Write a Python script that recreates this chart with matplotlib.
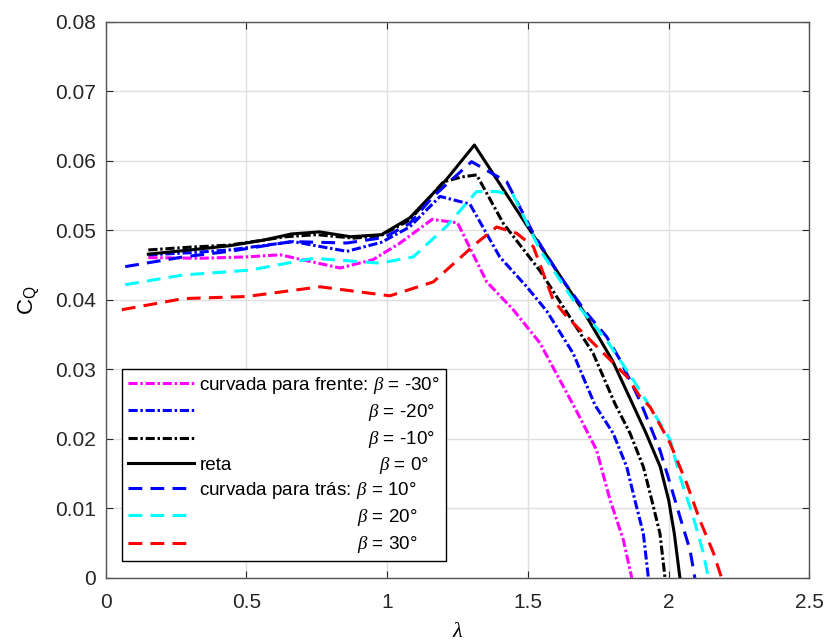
import matplotlib
matplotlib.use("Agg")
import matplotlib.pyplot as plt
from matplotlib.ticker import MultipleLocator, FormatStrFormatter

plt.rcParams['font.family'] = ['Liberation Sans', 'DejaVu Sans']
plt.rcParams['mathtext.fontset'] = 'custom'
plt.rcParams['mathtext.rm'] = 'Liberation Sans'
plt.rcParams['mathtext.it'] = 'Liberation Serif:italic'

# torque coefficient curves, one per blade curvature angle
lam_m30 = [0.152, 0.336, 0.50, 0.62, 0.833, 0.95, 1.046, 1.16, 1.25, 1.354, 1.448,
           1.543, 1.673, 1.744, 1.792, 1.839, 1.869]
cq_m30 = [0.0461, 0.0460, 0.0462, 0.0465, 0.0446, 0.0458, 0.0482, 0.0516, 0.0511,
          0.0426, 0.0386, 0.0338, 0.0240, 0.0184, 0.0112, 0.0055, 0.0]

lam_m20 = [0.152, 0.30, 0.44, 0.667, 0.857, 0.98, 1.08, 1.188, 1.294, 1.40, 1.496,
           1.567, 1.661, 1.738, 1.803, 1.851, 1.880, 1.91, 1.928]
cq_m20 = [0.0465, 0.0468, 0.0472, 0.0484, 0.0470, 0.0483, 0.0505, 0.0549, 0.0538,
          0.0462, 0.0419, 0.0384, 0.0323, 0.0249, 0.0208, 0.0160, 0.0112, 0.0064, 0.0]

lam_m10 = [0.152, 0.30, 0.44, 0.64, 0.75, 0.88, 0.975, 1.08, 1.20, 1.265, 1.318,
           1.413, 1.543, 1.656, 1.732, 1.81, 1.863, 1.91, 1.94, 1.969, 1.987]
cq_m10 = [0.0472, 0.0476, 0.0479, 0.0491, 0.0494, 0.0489, 0.0492, 0.0515, 0.0570,
          0.0577, 0.0580, 0.0510, 0.0442, 0.0371, 0.0323, 0.0250, 0.0208, 0.0160,
          0.0112, 0.0064, 0.0]

lam_0 = [0.152, 0.30, 0.44, 0.56, 0.66, 0.76, 0.87, 0.98, 1.08, 1.21, 1.31, 1.50,
         1.70, 1.80, 1.87, 1.92, 1.97, 2.00, 2.02, 2.04]
cq_0 = [0.0466, 0.0472, 0.0478, 0.0486, 0.0495, 0.0498, 0.0491, 0.0494, 0.0518,
        0.0573, 0.0623, 0.0505, 0.0382, 0.0313, 0.0252, 0.0208, 0.0160, 0.0112,
        0.0064, 0.0]

lam_p10 = [0.07, 0.276, 0.44, 0.66, 0.857, 0.99, 1.08, 1.164, 1.30, 1.425, 1.519,
           1.614, 1.709, 1.78, 1.827, 1.898, 1.969, 2.005, 2.04, 2.076, 2.093]
cq_p10 = [0.0448, 0.0462, 0.0470, 0.0484, 0.0482, 0.0490, 0.0510, 0.0549, 0.0599,
          0.0570, 0.0496, 0.0434, 0.0381, 0.0347, 0.0314, 0.0255, 0.0184, 0.0136,
          0.0088, 0.0040, 0.0]

lam_p20 = [0.07, 0.276, 0.513, 0.738, 0.975, 1.093, 1.211, 1.318, 1.389, 1.448,
           1.543, 1.661, 1.78, 1.874, 1.934, 2.005, 2.04, 2.087, 2.123, 2.141]
cq_p20 = [0.0422, 0.0436, 0.0443, 0.0460, 0.0453, 0.0462, 0.0506, 0.0556, 0.0556,
          0.0551, 0.0472, 0.0400, 0.0342, 0.0285, 0.0246, 0.0199, 0.0146, 0.0088,
          0.0036, 0.0]

lam_p30 = [0.058, 0.276, 0.501, 0.762, 1.01, 1.164, 1.318, 1.389, 1.46, 1.519,
           1.59, 1.638, 1.732, 1.792, 1.851, 1.898, 1.934, 2.005, 2.064, 2.111,
           2.159, 2.188]
cq_p30 = [0.0386, 0.0402, 0.0405, 0.0419, 0.0406, 0.0426, 0.0482, 0.0505, 0.0496,
          0.0477, 0.0400, 0.0376, 0.0338, 0.0314, 0.0290, 0.0261, 0.0246, 0.0194,
          0.0136, 0.0083, 0.0036, 0.0]

labels = ['curvada para frente: $\\beta$ = -30°',
          '$\\beta$ = -20°',
          '$\\beta$ = -10°',
          'reta',
          'curvada para trás: $\\beta$ = 10°',
          '$\\beta$ = 20°',
          '$\\beta$ = 30°']
reta_beta = '$\\beta$ = 0°'

# where the beta text starts in each legend row, in points from the row's text start
beta_indent = [None, 121.5, 121.5, 129.0, None, 113.5, 113.5]

dashdot = (0, (3.0, 0.9, 0.8, 0.9))
dashed = (0, (4.5, 2.7))
lw = 2.2

fig = plt.figure(figsize=(8.27, 6.41), dpi=100)
ax = fig.add_axes([0.1276, 0.0983, 0.8512, 0.8674])

ax.plot(lam_m30, cq_m30, color='#ff00ff', ls=dashdot, lw=lw, label=labels[0])
ax.plot(lam_m20, cq_m20, color='#0000ff', ls=dashdot, lw=lw, label=labels[1])
ax.plot(lam_m10, cq_m10, color='black', ls=dashdot, lw=lw, label=labels[2])
ax.plot(lam_0, cq_0, color='black', ls='-', lw=lw, label=labels[3])
ax.plot(lam_p10, cq_p10, color='#0000ff', ls=dashed, lw=lw, label=labels[4])
ax.plot(lam_p20, cq_p20, color='#00ffff', ls=dashed, lw=lw, label=labels[5])
ax.plot(lam_p30, cq_p30, color='#ff0000', ls=dashed, lw=lw, label=labels[6])

# axes in the usual boxed style with ticks pointing in
ax.set_xlim(0, 2.5)
ax.set_ylim(0, 0.08)
ax.xaxis.set_major_locator(MultipleLocator(0.5))
ax.yaxis.set_major_locator(MultipleLocator(0.01))
ax.xaxis.set_major_formatter(FormatStrFormatter('%g'))
ax.yaxis.set_major_formatter(FormatStrFormatter('%g'))
ax.tick_params(direction='in', length=5, width=0.8, color='#262626',
               labelsize=15, labelcolor='#262626', top=True, right=True)
ax.tick_params(axis='x', pad=11)
ax.tick_params(axis='y', pad=7)
ax.grid(True, color='#e0e0e0', lw=1)
ax.set_axisbelow(True)
for sp in ax.spines.values():
    sp.set_color('#555555')
    sp.set_linewidth(1.0)

ax.set_xlabel('$\\lambda$', fontsize=16, labelpad=6)
ax.set_ylabel('C$_\\mathregular{Q}$', fontsize=16, labelpad=10)

leg = ax.legend(loc='lower left', bbox_to_anchor=(0.0234, 0.0306),
                borderaxespad=0, fontsize=13.6, handlelength=3.5,
                handletextpad=0.3, labelspacing=0.33, borderpad=0.3,
                fancybox=False, framealpha=1, edgecolor='black')
leg.get_frame().set_linewidth(1.0)

# indent the beta part of the legend rows
px = fig.dpi / 72.0
texts = leg.get_texts()
for t, ind in zip(texts, beta_indent):
    if ind is not None and t.get_text() != 'reta':
        t.set_x(ind * px)

fig.canvas.draw()
base = texts[3].get_transform().transform((0, 0))
fx, fy = fig.transFigure.inverted().transform((base[0] + beta_indent[3] * px, base[1]))
fig.text(fx, fy, reta_beta, ha='left', va='baseline', fontsize=13.6)

fig.savefig('out.png', dpi=100)
